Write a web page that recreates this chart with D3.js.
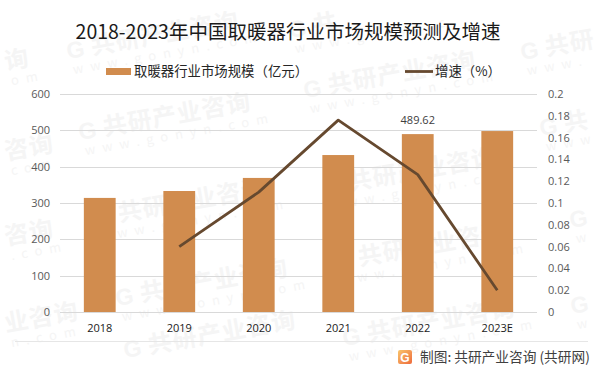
<!DOCTYPE html>
<html>
<head>
<meta charset="utf-8">
<script src="https://cdnjs.cloudflare.com/ajax/libs/d3/7.8.5/d3.min.js"></script>
<style>
html, body { margin: 0; padding: 0; background: #fff; }
svg { display: block; }
text { font-family: "Noto Sans CJK SC", "Open Sans", sans-serif; }
</style>
</head>
<body>
<div id="chart"></div>
<script>
// chart values
const years = ["2018", "2019", "2020", "2021", "2022", "2023E"];
const marketSize = [314, 333, 369, 432, 489.62, 498];
const growth = [null, 0.06, 0.11, 0.176, 0.126, 0.02];
const leftTicks = [0, 100, 200, 300, 400, 500, 600];
const rightTicks = [0, 0.02, 0.04, 0.06, 0.08, 0.1, 0.12, 0.14, 0.16, 0.18, 0.2];

const titleText = "2018-2023年中国取暖器行业市场规模预测及增速";
const barLegend = "取暖器行业市场规模（亿元）";
const lineLegend = "增速（%）";
const sourceText = "制图: 共研产业咨询 (共研网)";

// watermarks: x, y, logo letter, name, site. edge ones only keep the part that shows
const full = "共研产业咨询", site = "www.gonyn.com";
const marks = [
    [68, 59, "G", full, site], [80, 140, "G", full, site], [305, 98, "G", full, site],
    [95, 226, "G", full, site], [117, 306, "G", full, site], [325, 195, "G", full, site],
    [335, 270, "G", full, site], [344, 346, "G", full, site],
    [125, 358, "G", full, ""],
    [522, 60, "G", "共研", "www."], [290, 38, "G", "共", "www.gonyn.c"],
    [541, 136, "G", "共", "www"], [571, 228, "G", "", "w"], [572, 314, "G", "", "w"],
    [6, 70, "", "询", "om"], [6, 160, "", "咨询", "com"], [6, 245, "", "咨询", ".com"], [6, 332, "", "业咨询", "n.com"]
];

const width = 602, height = 371;
const margin = { top: 94, right: 65, bottom: 59, left: 60 };

const svg = d3.select("#chart").append("svg")
    .attr("width", width)
    .attr("height", height)
    .attr("viewBox", "0 0 " + width + " " + height);

// watermarks go under everything
const wm = svg.append("g");
marks.forEach(function (d) {
    const m = wm.append("g").attr("transform", `translate(${d[0]},${d[1]}) rotate(-10)`);
    m.append("text").attr("x", 0).attr("y", 0)
        .attr("font-size", 23).attr("font-weight", 700).attr("fill", "#f5f5f5")
        .style("font-family", "'Liberation Sans'")
        .text(d[2]);
    m.append("text").attr("x", d[2] ? 25 : 0).attr("y", 0)
        .attr("font-size", 24).attr("font-weight", 700).attr("fill", "#f5f5f5")
        .attr("letter-spacing", 1)
        .text(d[3]);
    m.append("text").attr("x", 3).attr("y", 16)
        .attr("font-size", 13).attr("fill", "#f5f5f5")
        .attr("letter-spacing", 7)
        .text(d[4]);
});

const x = d3.scaleBand()
    .domain(years)
    .range([margin.left, width - margin.right])
    .paddingInner(0.6)
    .paddingOuter(0.3);

const yLeft = d3.scaleLinear().domain([0, 600]).range([height - margin.bottom, margin.top]);
const yRight = d3.scaleLinear().domain([0, 0.2]).range([height - margin.bottom, margin.top]);

// grid lines
svg.append("g").selectAll("line")
    .data(leftTicks)
    .enter().append("line")
    .attr("x1", margin.left)
    .attr("x2", width - margin.right)
    .attr("y1", d => Math.round(yLeft(d)) + 0.5)
    .attr("y2", d => Math.round(yLeft(d)) + 0.5)
    .attr("stroke", "#d9d9d9")
    .attr("stroke-width", 1);

// left axis
const axisLeft = svg.append("g")
    .attr("transform", `translate(${margin.left},0)`)
    .call(d3.axisLeft(yLeft).tickValues(leftTicks).tickSize(0).tickPadding(10));
axisLeft.select(".domain").remove();
axisLeft.selectAll("text").attr("font-size", 11).attr("fill", "#595959")
    .style("font-family", "'Open Sans'");

// right axis
const axisRight = svg.append("g")
    .attr("transform", `translate(${width - margin.right},0)`)
    .call(d3.axisRight(yRight).tickValues(rightTicks).tickFormat(d3.format("~g")).tickSize(0).tickPadding(11));
axisRight.select(".domain").remove();
axisRight.selectAll("text").attr("font-size", 11).attr("fill", "#595959")
    .style("font-family", "'Open Sans'");

// bottom axis labels
const axisBottom = svg.append("g")
    .attr("transform", `translate(0,${height - margin.bottom})`)
    .call(d3.axisBottom(x).tickSize(0).tickPadding(12));
axisBottom.select(".domain").remove();
axisBottom.selectAll("text").attr("font-size", 11).attr("fill", "#1a1a1a")
    .style("font-family", "'Open Sans'");

// bars
svg.append("g").selectAll("rect")
    .data(years)
    .enter().append("rect")
    .attr("x", d => x(d))
    .attr("width", x.bandwidth())
    .attr("y", (d, i) => yLeft(marketSize[i]))
    .attr("height", (d, i) => yLeft(0) - yLeft(marketSize[i]))
    .attr("fill", "#d18c4e");

// growth line, 2018 has no value
const line = d3.line()
    .defined(d => d.v !== null)
    .x(d => x(d.year) + x.bandwidth() / 2)
    .y(d => yRight(d.v));

svg.append("path")
    .datum(years.map((y, i) => ({ year: y, v: growth[i] })))
    .attr("d", line)
    .attr("fill", "none")
    .attr("stroke", "#66492f")
    .attr("stroke-width", 2.8)
    .attr("stroke-linejoin", "round");

// only one bar carries a data label
svg.append("text")
    .attr("x", x("2022") + x.bandwidth() / 2)
    .attr("y", yLeft(marketSize[4]) - 10)
    .attr("text-anchor", "middle")
    .attr("font-size", 11)
    .attr("fill", "#404040")
    .style("font-family", "'Open Sans'")
    .text(marketSize[4]);

// title
svg.append("text")
    .attr("x", 288)
    .attr("y", 39)
    .attr("text-anchor", "middle")
    .attr("font-size", 19.5)
    .attr("fill", "#1a1a1a")
    .text(titleText);

// legend
svg.append("rect").attr("x", 106).attr("y", 68).attr("width", 25).attr("height", 7).attr("fill", "#d18c4e");
svg.append("text").attr("x", 134).attr("y", 76).attr("font-size", 13.4).attr("fill", "#262626").text(barLegend);
svg.append("line").attr("x1", 405).attr("x2", 433).attr("y1", 71.5).attr("y2", 71.5)
    .attr("stroke", "#66492f").attr("stroke-width", 2.8);
svg.append("text").attr("x", 435).attr("y", 76).attr("font-size", 13.4).attr("fill", "#262626").text(lineLegend);

// footer
svg.append("line").attr("x1", 15).attr("x2", 588).attr("y1", 341.5).attr("y2", 341.5)
    .attr("stroke", "#e6e6e6");

const grad = svg.append("defs").append("linearGradient").attr("id", "logo").attr("x1", 0).attr("x2", 1).attr("y1", 0).attr("y2", 1);
grad.append("stop").attr("offset", 0).attr("stop-color", "#f9c56b");
grad.append("stop").attr("offset", 1).attr("stop-color", "#ee6a3c");
svg.append("rect").attr("x", 398).attr("y", 350).attr("width", 14).attr("height", 14).attr("rx", 2).attr("fill", "url(#logo)");
svg.append("text").attr("x", 405).attr("y", 361.5).attr("text-anchor", "middle")
    .attr("font-size", 12).attr("font-weight", 700).attr("fill", "#fff")
    .style("font-family", "'Liberation Sans'").text("G");
svg.append("text").attr("x", 420).attr("y", 362).attr("font-size", 13.7).attr("fill", "#404040").text(sourceText);
</script>
</body>
</html>
